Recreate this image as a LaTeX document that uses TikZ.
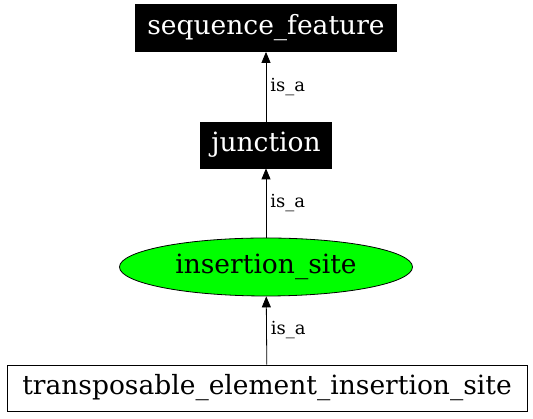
\documentclass[tikz,border=0pt]{standalone}
\usepackage{fontspec}
\setmainfont{DejaVu Serif}
\usetikzlibrary{arrows.meta,shapes.geometric}

\begin{document}
\begin{tikzpicture}[x=1pt,y=1pt,line width=0.8pt,
  term/.style={rectangle,draw,inner sep=0pt,font=\fontsize{26.5}{30}\selectfont},
  isa/.style={-{Triangle[length=11pt,width=9pt]}},
  lbl/.style={right,inner sep=4pt,font=\fontsize{18}{20}\selectfont}]
\useasboundingbox (0,0) rectangle (533,419);
\node[term,fill=black,text=white,minimum width=261pt,minimum height=47pt] (seqfeat) at (266,391) {sequence\_feature};
\node[term,fill=black,text=white,minimum width=131pt,minimum height=46pt] (junction) at (266,274) {junction};
\node[term,ellipse,fill=green,minimum width=293pt,minimum height=58pt] (inssite) at (266,152) {insertion\_site};
\node[term,fill=white,minimum width=520pt,minimum height=46pt] (tesite) at (267,31) {transposable\_element\_insertion\_site};
\draw[isa] (junction) -- node[lbl] {is\_a} (seqfeat);
\draw[isa] (inssite) -- node[lbl] {is\_a} (junction);
\draw[isa] (tesite) -- node[lbl] {is\_a} (inssite);
\end{tikzpicture}
\end{document}
